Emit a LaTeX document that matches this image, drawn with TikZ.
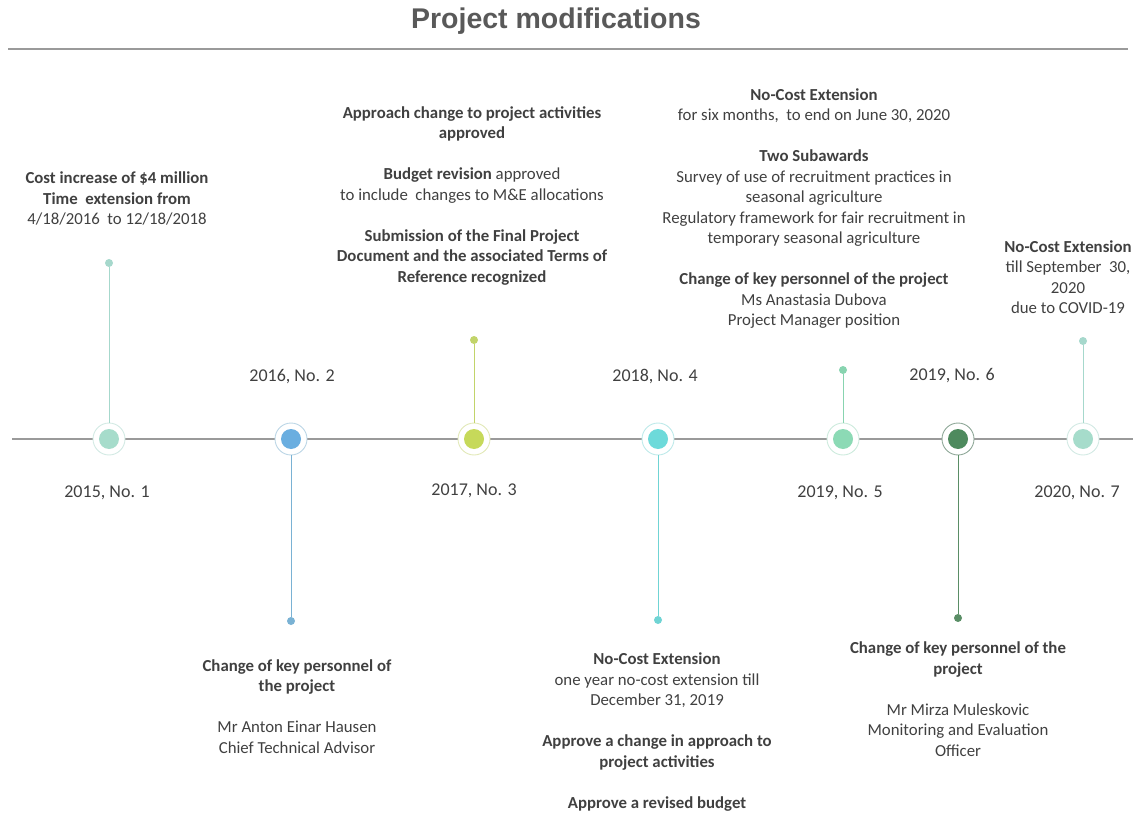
\documentclass[tikz,border=0pt]{standalone}
\usepackage{fontspec}
\setmainfont{Carlito}
\newfontfamily\titlefont{Liberation Sans}
\definecolor{txtgray}{HTML}{404040}
\definecolor{titlegray}{HTML}{595959}
\definecolor{linegray}{HTML}{9A9A9A}
\definecolor{cA}{HTML}{A6DCCB}
\definecolor{cAr}{HTML}{D3EAE4}
\definecolor{cB}{HTML}{6AAEE0}
\definecolor{cBr}{HTML}{BCD6E6}
\definecolor{cC}{HTML}{C6D95A}
\definecolor{cCr}{HTML}{E2E9B8}
\definecolor{cD}{HTML}{6DDADA}
\definecolor{cDr}{HTML}{BEEAEA}
\definecolor{cE}{HTML}{8CDAB5}
\definecolor{cEr}{HTML}{CDEBDD}
\definecolor{cF}{HTML}{4E8A5E}
\definecolor{cFr}{HTML}{8FA898}
\definecolor{sA}{HTML}{A6D8CC}
\definecolor{sB}{HTML}{7AB2D4}
\definecolor{sC}{HTML}{C2D46A}
\definecolor{sD}{HTML}{70D4D4}
\definecolor{sE}{HTML}{88D4B0}
\definecolor{sF}{HTML}{5A8E66}
\begin{document}
\begin{tikzpicture}[x=1pt,y=-1pt,
  ring/.style={circle,fill=white,draw=#1,line width=0.9pt,minimum size=32pt,inner sep=0},
  core/.style={circle,fill=#1,minimum size=20pt,inner sep=0},
  tipdot/.style={circle,fill=#1,minimum size=8pt,inner sep=0},
  stem/.style={draw=#1,line width=1pt},
  yr/.style={font=\fontsize{18}{22}\selectfont,text=txtgray,inner sep=0},
  blk/.style={align=center,font=\fontsize{16.8}{20.5}\selectfont,text=txtgray,inner sep=0}]
\useasboundingbox (0,0) rectangle (1138,813);
% title
\node[font=\titlefont\bfseries\fontsize{28.5}{32}\selectfont,text=titlegray] (title) at (556,21) {Project modifications};
\coordinate (rl) at (8,49);
\coordinate (rr) at (1128,49);
\draw[linegray,line width=1.5pt] (rl) -- (rr);
% timeline
\coordinate (tl) at (12,439);
\coordinate (tr) at (1133,439);
\draw[linegray,line width=2pt] (tl) -- (tr);
% milestones
\node[ring=cAr] (r1) at (109,439) {}; \node[core=cA] (d1) at (r1) {};
\node[ring=cBr] (r2) at (291,439) {}; \node[core=cB] (d2) at (r2) {};
\node[ring=cCr] (r3) at (474,439) {}; \node[core=cC] (d3) at (r3) {};
\node[ring=cDr] (r4) at (658,439) {}; \node[core=cD] (d4) at (r4) {};
\node[ring=cEr] (r5) at (843,439) {}; \node[core=cE] (d5) at (r5) {};
\node[ring=cFr] (r6) at (958,439) {}; \node[core=cF] (d6) at (r6) {};
\node[ring=cAr] (r7) at (1083,439) {}; \node[core=cA] (d7) at (r7) {};
% stem tips
\node[tipdot=sA] (t1) at (109,263) {};
\node[tipdot=sB] (t2) at (291,621) {};
\node[tipdot=sC] (t3) at (474,340) {};
\node[tipdot=sD] (t4) at (658,620) {};
\node[tipdot=sE] (t5) at (843,370) {};
\node[tipdot=sF] (t6) at (958,618) {};
\node[tipdot=sA] (t7) at (1083,341) {};
\draw[stem=sA] (r1) -- (t1);
\draw[stem=sB] (r2) -- (t2);
\draw[stem=sC] (r3) -- (t3);
\draw[stem=sD] (r4) -- (t4);
\draw[stem=sE] (r5) -- (t5);
\draw[stem=sF] (r6) -- (t6);
\draw[stem=sA] (r7) -- (t7);
% year labels
\node[yr] (y1) at (107,493) {2015, No. 1};
\node[yr] (y2) at (292,377) {2016, No. 2};
\node[yr] (y3) at (474,491) {2017, No. 3};
\node[yr] (y4) at (655,377) {2018, No. 4};
\node[yr] (y5) at (840,493) {2019, No. 5};
\node[yr] (y6) at (952,376) {2019, No. 6};
\node[yr] (y7) at (1077,493) {2020, No. 7};
% text blocks
\node[blk] (b1) at (117,198.5) {\textbf{Cost increase of \$4 million}\\\textbf{Time\ \ extension from}\\4/18/2016\ \ to 12/18/2018};
\node[blk] (b3) at (472,196) {\textbf{Approach change to project activities}\\\textbf{approved}\\[20.5pt]
\textbf{Budget revision} approved\\to include\ \ changes to M\&E allocations\\[20.5pt]
\textbf{Submission of the Final Project}\\\textbf{Document and the associated Terms of}\\\textbf{Reference recognized}};
\node[blk] (b5) at (814,208.5) {\textbf{No-Cost Extension}\\for six months,\ \ to end on June 30, 2020\\[20.5pt]
\textbf{Two Subawards}\\Survey of use of recruitment practices in\\seasonal agriculture\\Regulatory framework for fair recruitment in\\temporary seasonal agriculture\\[20.5pt]
\textbf{Change of key personnel of the project}\\Ms Anastasia Dubova\\Project Manager position};
\node[blk] (b7) at (1068,277) {\textbf{No-Cost Extension}\\till September\ \ 30,\\2020\\due to COVID-19};
\node[blk] (b2) at (297,706.5) {\textbf{Change of key personnel of}\\\textbf{the project}\\[20.5pt]
Mr Anton Einar Hausen\\Chief Technical Advisor};
\node[blk] (b4) at (657,732) {\textbf{No-Cost Extension}\\one year no-cost extension till\\December 31, 2019\\[20.5pt]
\textbf{Approve a change in approach to}\\\textbf{project activities}\\[20.5pt]
\textbf{Approve a revised budget}};
\node[blk] (b6) at (958,699) {\textbf{Change of key personnel of the}\\\textbf{project}\\[20.5pt]
Mr Mirza Muleskovic\\Monitoring and Evaluation\\Officer};
\end{tikzpicture}
\end{document}
